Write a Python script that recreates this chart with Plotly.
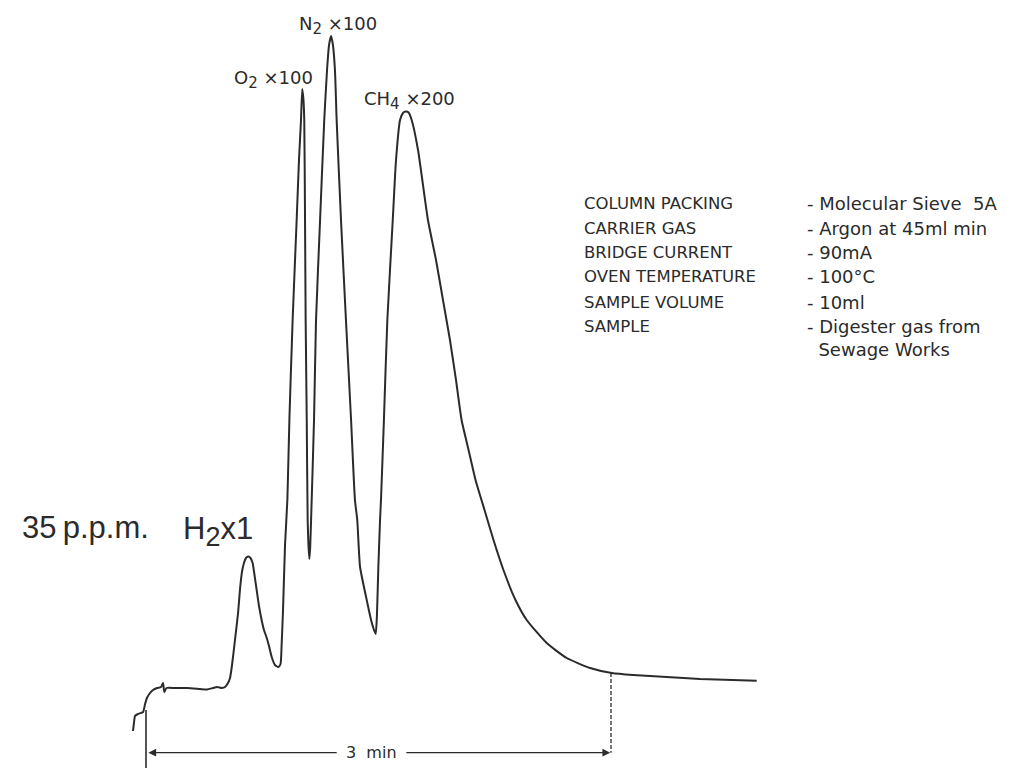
import plotly.graph_objects as go

# ---- Chromatogram trace: retention time (min) vs detector response (arbitrary units) ----
time_min = [-0.084, -0.077, -0.071, -0.052, -0.019, -0.006, 0.006, 0.026, 0.045, 0.071,
            0.097, 0.110, 0.118, 0.132, 0.187, 0.265, 0.348, 0.394, 0.432, 0.458,
            0.490, 0.510, 0.529, 0.542, 0.555, 0.574, 0.594, 0.606, 0.619, 0.632,
            0.645, 0.660, 0.674, 0.688, 0.700, 0.714, 0.729, 0.746, 0.761, 0.779,
            0.795, 0.811, 0.832, 0.854, 0.868, 0.875, 0.884, 0.897, 0.912, 0.925,
            0.946, 0.972, 0.987, 1.000, 1.008, 1.016, 1.021, 1.026, 1.030, 1.037,
            1.043, 1.048, 1.054, 1.059, 1.065, 1.084, 1.097, 1.123, 1.150, 1.168,
            1.181, 1.194, 1.206, 1.219, 1.230, 1.258, 1.290, 1.323, 1.348, 1.363,
            1.381, 1.424, 1.452, 1.471, 1.482, 1.490, 1.499, 1.510, 1.516, 1.535,
            1.557, 1.592, 1.613, 1.639, 1.658, 1.675, 1.694, 1.714, 1.755, 1.819,
            1.871, 1.916, 1.961, 2.000, 2.036, 2.081, 2.126, 2.184, 2.242, 2.306,
            2.384, 2.456, 2.585, 2.714, 2.865, 3.005, 3.142, 3.359, 3.574, 3.940]
response = [-4.3, -3.4, -2.8, -2.6, -2.4, -1.6, -1.0, -0.5, -0.2, 0.0,
            0.1, 0.5, -0.4, 0.0, 0.0, 0.0, -0.1, -0.15, 0.0, 0.1,
            0.0, 0.1, 0.5, 1.0, 2.3, 4.8, 7.5, 9.8, 11.6, 12.5,
            13.0, 13.15, 13.0, 12.5, 11.3, 9.8, 8.2, 6.8, 5.8, 5.0,
            4.1, 3.1, 2.3, 2.1, 2.4, 4.3, 7.8, 14.3, 18.8, 26.8,
            36.8, 46.8, 52.8, 56.8, 59.9, 58.8, 56.8, 46.8, 36.8, 26.8,
            16.8, 14.3, 12.9, 14.0, 16.8, 26.8, 36.8, 46.8, 56.8, 61.8,
            64.3, 65.2, 64.3, 61.8, 56.8, 46.8, 36.8, 26.8, 18.8, 16.8,
            12.1, 8.8, 6.8, 5.8, 5.4, 7.3, 12.1, 16.8, 18.8, 26.8,
            36.8, 46.8, 52.8, 56.8, 57.5, 57.65, 57.55, 56.8, 53.8, 46.8,
            42.8, 38.8, 34.8, 30.8, 26.8, 23.8, 20.8, 17.8, 14.8, 11.8,
            8.8, 6.8, 4.5, 3.0, 2.0, 1.5, 1.3, 1.1, 0.9, 0.73]

# ---- Time marker (3 min span) ----
span_start_min = 0.0
span_end_min = 3.0
span_label = "3\u00a0\u00a0min"
span_level = -6.47          # response level of the dimension arrow
span_end_response = 1.5     # trace response at the 3 min mark

# ---- Text ----
SUB = '<sub><span style="font-size:15px">{}</span></sub>'
peak_labels = ["O" + SUB.format("2") + "\u00a0\u00d7100",
               "N" + SUB.format("2") + "\u00a0\u00d7100",
               "CH" + SUB.format("4") + "\u00a0\u00d7200"]
conc_label = "35\u2009p.p.m."
h2_label = "H" + '<sub><span style="font-size:27px">2</span></sub>' + "x1"
cond_names = ["COLUMN PACKING", "CARRIER GAS", "BRIDGE CURRENT",
              "OVEN TEMPERATURE", "SAMPLE VOLUME", "SAMPLE"]
cond_values = ["- Molecular Sieve\u00a0\u00a05A", "- Argon at 45ml min", "- 90mA",
               "- 100\u00b0C", "- 10ml",
               "- Digester gas from<br>\u00a0\u00a0Sewage Works"]

W, H = 1013, 768
INK = "#2b2b2b"
FONT = "DejaVu Sans, Liberation Sans, Arial, sans-serif"
FONT2 = "Liberation Sans, Arial, Helvetica, sans-serif"


def px(x):
    return x / W


def py(y):
    return 1 - y / H


fig = go.Figure()
fig.add_trace(go.Scatter(
    x=time_min, y=response, mode="lines",
    line=dict(color=INK, width=2, shape="spline", smoothing=0.5),
    hoverinfo="skip", showlegend=False))

# start marker (solid) and 3 min marker (dashed)
fig.add_shape(type="line", x0=span_start_min, x1=span_start_min, y0=-2.2, y1=-8.5,
              line=dict(color=INK, width=1.6))
fig.add_shape(type="line", x0=span_end_min, x1=span_end_min, y0=span_end_response, y1=span_level,
              line=dict(color=INK, width=1.3, dash="4px,2px"))

ann = []
ann.append(dict(x=span_start_min + 0.015, y=span_level, ax=1.24, ay=span_level,
                xref="x", yref="y", axref="x", ayref="y", text="", showarrow=True,
                arrowhead=2, arrowsize=1.2, arrowwidth=1.3, arrowcolor=INK))
ann.append(dict(x=span_end_min - 0.005, y=span_level, ax=1.67, ay=span_level,
                xref="x", yref="y", axref="x", ayref="y", text="", showarrow=True,
                arrowhead=2, arrowsize=1.2, arrowwidth=1.3, arrowcolor=INK))
ann.append(dict(x=1.455, y=span_level, xref="x", yref="y", text=span_label, showarrow=False,
                font=dict(size=16, color=INK, family=FONT), xanchor="center", yanchor="middle"))

# peak labels
label_pos = [(232, 80), (297, 25), (362, 101)]
for t, (lx, ly) in zip(peak_labels, label_pos):
    ann.append(dict(x=px(lx), y=py(ly), xref="paper", yref="paper", text=t, showarrow=False,
                    font=dict(size=18, color=INK, family=FONT), xanchor="left", yanchor="middle"))

ann.append(dict(x=px(20), y=py(527), xref="paper", yref="paper", text=conc_label, showarrow=False,
                font=dict(size=31, color=INK, family=FONT2), xanchor="left", yanchor="middle"))
ann.append(dict(x=px(181), y=py(531), xref="paper", yref="paper", text=h2_label, showarrow=False,
                font=dict(size=31, color=INK, family=FONT2), xanchor="left", yanchor="middle"))

row_y = [203, 228, 253, 277, 302, 326]
for i, (name, val, ry) in enumerate(zip(cond_names, cond_values, row_y)):
    ann.append(dict(x=px(582), y=py(ry), xref="paper", yref="paper", text=name, showarrow=False,
                    font=dict(size=16.5, color=INK, family=FONT), xanchor="left", yanchor="middle"))
    last = i == len(cond_values) - 1
    ann.append(dict(x=px(805), y=py(ry - 12) if last else py(ry), xref="paper", yref="paper",
                    text=val, showarrow=False, align="left",
                    font=dict(size=18, color=INK, family=FONT), xanchor="left",
                    yanchor="top" if last else "middle"))

fig.update_layout(
    width=W, height=H, margin=dict(l=0, r=0, t=0, b=0),
    paper_bgcolor="white", plot_bgcolor="white",
    xaxis=dict(range=[-146 / 155, (W - 146) / 155], visible=False, fixedrange=True),
    yaxis=dict(range=[-8.0, 68.8], visible=False, fixedrange=True),
    annotations=ann, showlegend=False)

fig.write_html("out.html", config={"displayModeBar": False},
               post_script="document.body.style.margin='0';document.body.style.overflow='hidden';")
